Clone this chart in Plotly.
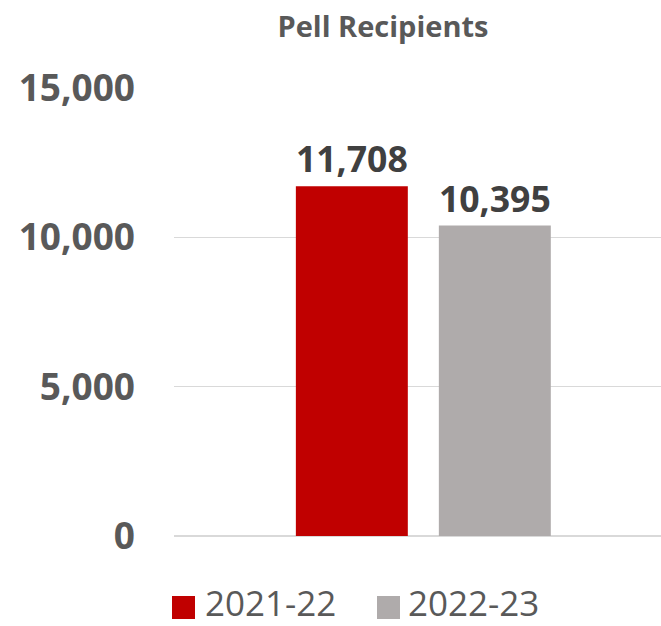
import plotly.graph_objects as go

# ---- data ----
title_text = "Pell Recipients"
category = ["Pell Recipients"]
series_names = ["2021-22", "2022-23"]
series_values = [[11708], [10395]]
series_colors = ["#C00000", "#AFABAB"]
y_tickvals = [0, 5000, 10000, 15000]

W, H = 661, 626
L, R, T, B = 174, 0, 88, 90
pw, ph = W - L - R, H - T - B

def px_x(x):
    return (x - L) / pw

def px_y(y):
    return (H - B - y) / ph

FONT = "Open Sans"
fig = go.Figure()
for name, vals, col in zip(series_names, series_values, series_colors):
    fig.add_trace(go.Bar(
        x=category, y=vals, name=name, marker=dict(color=col, line=dict(width=0)),
        texttemplate="%{y:,}",
        textposition="outside", cliponaxis=False,
        textfont=dict(family=FONT, size=36, color="#404040", weight="bold"),
        showlegend=False,
    ))

# manual legend (large square swatches)
legend_pos = [(172, 207), (377, 410)]
for (sx, tx), name, col in zip(legend_pos, series_names, series_colors):
    fig.add_shape(type="rect", xref="paper", yref="paper",
                  x0=px_x(sx), x1=px_x(sx + 23), y0=px_y(596), y1=px_y(619),
                  fillcolor=col, line=dict(width=0))
    fig.add_annotation(xref="paper", yref="paper", x=px_x(tx - 3), y=px_y(602),
                       text=name, showarrow=False, xanchor="left", yanchor="middle",
                       borderpad=0,
                       font=dict(family=FONT, size=35, color="#595959"))

fig.update_layout(
    width=W, height=H,
    margin=dict(l=L, r=R, t=T, b=B),
    paper_bgcolor="white", plot_bgcolor="white",
    barmode="group", bargap=0.4265, bargroupgap=0.217,
    title=dict(text="<b>" + title_text + "</b>", x=383 / W, xanchor="center", xref="container",
               y=1 - 27 / H, yanchor="middle", yref="container",
               font=dict(family=FONT, size=29, color="#595959")),
    xaxis=dict(type="category", range=[-0.5, 0.4766], showticklabels=False,
               showgrid=False, zeroline=False, showline=False, fixedrange=True),
    yaxis=dict(range=[0, 15000], tickvals=y_tickvals, tickformat=",",
               showgrid=True, gridcolor="#D9D9D9", gridwidth=1.5,
               zeroline=True, zerolinecolor="#D9D9D9", zerolinewidth=1.5,
               showline=False, ticks="", ticklabelstandoff=38, fixedrange=True,
               tickfont=dict(family=FONT, size=37, color="#595959", weight="bold")),
    showlegend=False,
)

fig.write_html("out.html", config={"displayModeBar": False, "staticPlot": True},
               post_script="document.body.style.margin='0';document.body.style.overflow='hidden';")
